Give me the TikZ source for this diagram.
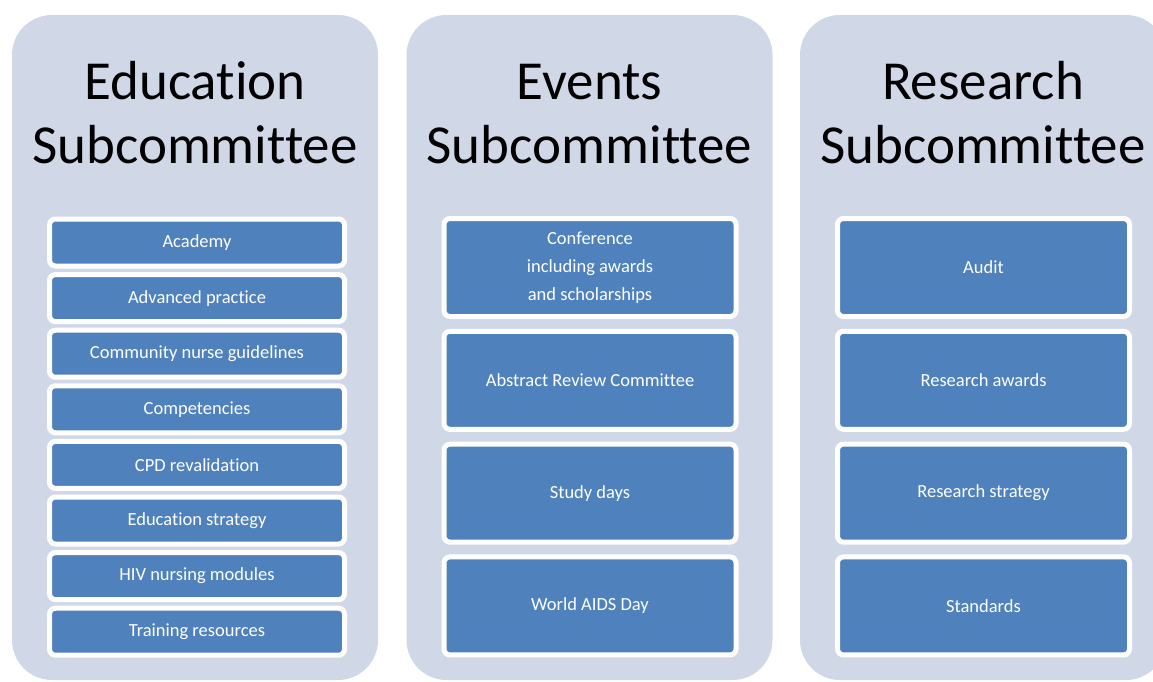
\documentclass[tikz,border=0pt]{standalone}
\usepackage{fontspec}
\setmainfont[Ligatures={NoCommon}]{Carlito}
\definecolor{panelbg}{HTML}{D0D8E8}
\definecolor{itemblue}{HTML}{4F81BD}
\begin{document}
\begin{tikzpicture}[x=1pt,y=-1pt,
  panel/.style={fill=panelbg, rounded corners=40pt, minimum width=366pt, minimum height=665pt, inner sep=0pt},
  title/.style={font=\fontsize{55}{63}\selectfont, align=center, text=black, inner sep=0pt, anchor=base},
  itembox/.style={draw=white, line width=5pt, fill=itemblue, rounded corners=6pt, inner sep=0pt, text=white, align=center},
  smallitem/.style={itembox, minimum width=295pt, minimum height=47pt, font=\fontsize{18.5}{21}\selectfont},
  bigitem/.style={itembox, minimum width=292pt, minimum height=98pt, font=\fontsize{18.5}{28}\selectfont}]
\useasboundingbox (0,0) rectangle (1153,682);
\clip (0,0) rectangle (1153,682);
% panels
\node[panel] (p1) at (195,347.5) {};
\node[panel] (p2) at (589.5,347.5) {};
\node[panel] (p3) at (983,347.5) {};
% titles
\node[title] (t1) at (195,163) {Education\\Subcommittee};
\node[title] (t2) at (589.5,163) {Events\\Subcommittee};
\node[title] (t3) at (983,163) {Research\\Subcommittee};
% education items
\node[smallitem] (e1) at (197,242.5) {Academy};
\node[smallitem] (e2) at (197,298.1) {Advanced practice};
\node[smallitem] (e3) at (197,353.7) {Community nurse guidelines};
\node[smallitem] (e4) at (197,409.3) {Competencies};
\node[smallitem] (e5) at (197,464.9) {CPD revalidation};
\node[smallitem] (e6) at (197,520.5) {Education strategy};
\node[smallitem] (e7) at (197,576.1) {HIV nursing modules};
\node[smallitem] (e8) at (197,631.7) {Training resources};
% events items
\node[bigitem] (v1) at (590,267.5) {Conference\\including awards\\and scholarships};
\node[bigitem] (v2) at (590,380.3) {Abstract Review Committee};
\node[bigitem] (v3) at (590,493.1) {Study days};
\node[bigitem] (v4) at (590,605.9) {World AIDS Day};
% research items
\node[bigitem] (r1) at (983.5,267.5) {Audit};
\node[bigitem] (r2) at (983.5,380.3) {Research awards};
\node[bigitem] (r3) at (983.5,493.1) {Research strategy};
\node[bigitem] (r4) at (983.5,605.9) {Standards};
\end{tikzpicture}
\end{document}
